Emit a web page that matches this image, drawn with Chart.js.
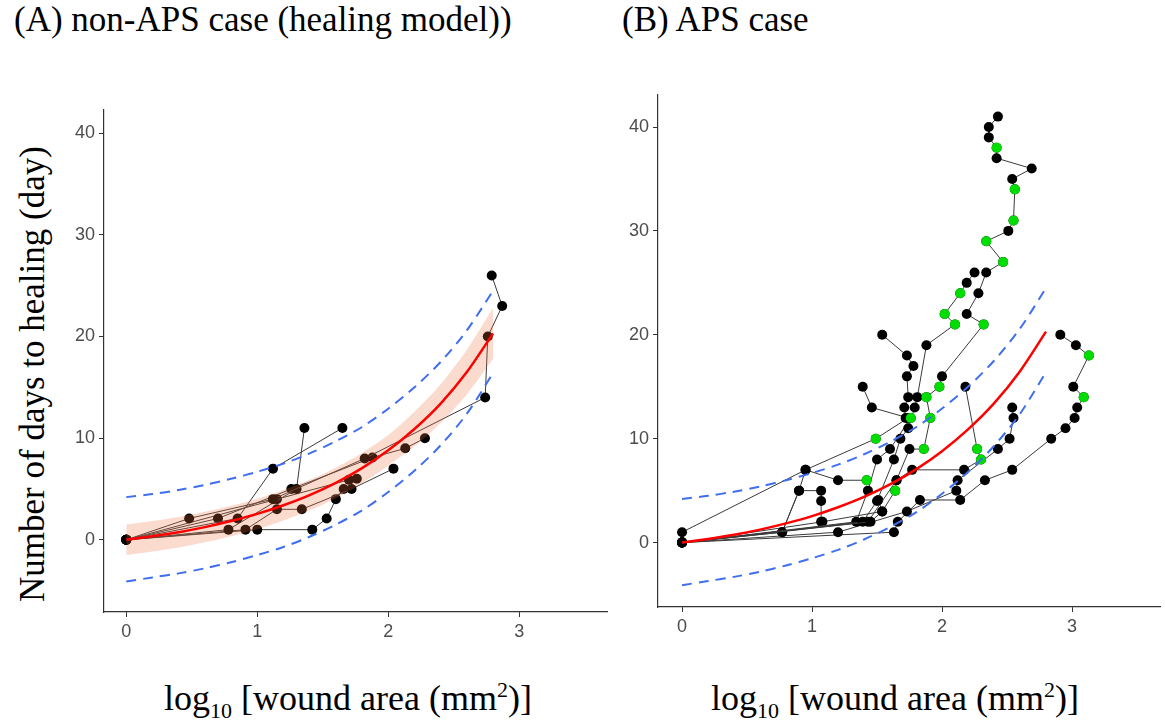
<!DOCTYPE html>
<html lang="en">
<head>
  <meta charset="UTF-8" />
  <title>Days to healing vs wound area</title>
  <script src="https://cdn.jsdelivr.net/npm/chart.js"></script>
  <style>
    body {
      margin: 0;
      width: 1165px;
      height: 723px;
      background: #fff;
      position: relative;
      overflow: hidden;
      font-family: 'Liberation Serif', 'Times New Roman', serif;
      color: #000;
    }
    .title {
      position: absolute;
      top: 0px;
      font-size: 35px;
      white-space: nowrap;
    }
    .ylab {
      position: absolute;
      left: 33px;
      top: 374px;
      font-size: 35px;
      white-space: nowrap;
      transform: translate(-50%, -50%) rotate(-90deg);
    }
    .xlab {
      position: absolute;
      top: 677px;
      font-size: 36px;
      white-space: nowrap;
      transform: translateX(-50%);
    }
    .xlab sub, .xlab sup { font-size: 22px; }
    .box { position: absolute; }
  </style>
</head>
<body>
  <div class="title" style="left:14px">(A) non-APS case (healing model))</div>
  <div class="title" style="left:622px">(B) APS case</div>
  <div class="ylab">Number of days to healing (day)</div>
  <div class="xlab" style="left:348px">log<sub>10</sub> [wound area (mm<sup>2</sup>)]</div>
  <div class="xlab" style="left:895px">log<sub>10</sub> [wound area (mm<sup>2</sup>)]</div>

  <div class="box" style="left:56px;top:95px;width:560px;height:560px"><canvas id="chartA"></canvas></div>
  <div class="box" style="left:610px;top:80px;width:555px;height:570px"><canvas id="chartB"></canvas></div>

  <script>
    // model curve (same in both panels)
    const modelX     = [0, 0.2, 0.4, 0.6, 0.8, 1.0, 1.2, 1.4, 1.6, 1.8, 2.0, 2.2, 2.4, 2.6, 2.8];
    const modelFit   = [0, 0.35, 0.75, 1.25, 1.85, 2.55, 3.4, 4.4, 5.6, 7.05, 8.8, 10.9, 13.4, 16.5, 20.3];
    const predUpper  = [4.2, 4.5, 4.9, 5.4, 6.0, 6.7, 7.5, 8.5, 9.7, 11.1, 12.9, 15.0, 17.5, 20.6, 24.5];
    const predLower  = [-4.1, -3.7, -3.3, -2.8, -2.2, -1.5, -0.7, 0.3, 1.5, 2.9, 4.7, 6.8, 9.3, 12.4, 16.4];
    const bandUpper  = [1.5, 1.85, 2.25, 2.75, 3.35, 4.05, 4.9, 5.9, 7.1, 8.55, 10.3, 12.6, 15.3, 18.7, 22.8];
    const bandLower  = [-1.5, -1.15, -0.75, -0.25, 0.35, 1.05, 1.9, 2.9, 4.1, 5.55, 7.3, 9.2, 11.5, 14.3, 17.8];

    const xTicks = [0, 1, 2, 3];
    const yTicks = [0, 10, 20, 30, 40];

    // (A) non-APS trajectories [log10 area, days]
    const aT1 = [[2.79,26],[2.87,23],[2.76,20],[2.74,14],[1.82,8],[1.12,4],[0.48,2.1],[0,0]];
    const aT2 = [[1.65,11],[1.12,7],[0.85,2.1],[0,0]];
    const aT3 = [[1.36,11],[1.30,5],[0.78,1],[0,0]];
    const aT4 = [[2.28,10],[2.13,9],[1.88,8.1],[1.26,5],[0.70,2.1],[0,0]];
    const aT5 = [[2.04,7],[1.72,5],[1.34,3],[1.15,3],[0.91,1],[0,0]];
    const aT6 = [[1.66,5],[1.60,4],[1.53,2.1],[1.42,1],[1.0,1],[0,0]];
    const aT7 = [[1.76,6],[1.70,5.9],[1.15,4],[0,0]];

    // (B) APS trajectories
    const bT1 = [[2.43,41],[2.36,40],[2.36,39],[2.42,38],[2.42,37],[2.69,36],[2.54,35],[2.56,34],[2.55,31],[2.51,30],[2.34,29],[2.47,27],[2.34,26],[2.28,24],[2.19,22],[2.32,21],[2.00,16],[1.98,15],[1.88,14],[1.91,12],[1.86,9],[1.75,9],[1.65,6],[1.64,5],[1.54,3],[1.45,2],[0,0]];
    const bT2 = [[2.25,26],[2.19,25],[2.14,24],[2.02,22],[2.10,21],[1.88,19],[1.81,14],[1.79,13],[1.74,11],[1.68,10],[1.63,8],[1.50,4],[1.39,2],[0,0]];
    const bT3 = [[1.54,20],[1.73,18],[1.78,17],[1.73,16],[1.74,14],[1.71,13],[1.72,12],[1.76,12],[1.60,9],[1.50,8],[1.43,5],[1.34,2],[0,0]];
    const bT4 = [[1.39,15],[1.46,13],[1.74,12],[1.49,10],[0.95,7],[0.90,5],[0.77,1],[0,0]];
    const bT5 = [[2.18,15],[2.27,9],[2.30,8],[2.17,7],[1.77,7],[1.65,6],[1.43,2],[0,0]];
    const bT6 = [[2.54,13],[2.55,12],[2.52,10],[2.43,9],[2.12,6],[2.11,5],[1.73,3],[1.20,1],[0,0]];
    const bT7 = [[2.91,20],[3.03,19],[3.13,18],[3.01,15],[3.09,14],[3.04,13],[3.02,12],[2.95,11],[2.84,10],[2.54,7],[2.33,6],[2.14,4.1],[1.83,4.1],[1.66,2],[1.63,1],[0,0]];
    const bT8 = [[1.42,6],[1.20,6],[0.95,7],[0,1],[0,0]];
    const bT9 = [[1.07,2],[1.07,4],[1.07,5],[0.90,5],[0.77,1],[0,0]];
    const bT10 = [[1.51,4.1],[1.54,3],[1.08,2],[0,0]];
    const bGreen = [[2.42,38],[2.56,34],[2.55,31],[2.34,29],[2.47,27],[2.32,21],[1.98,15],[1.88,14],[1.91,12],[1.86,9],[1.64,5],
                    [2.14,24],[2.02,22],[2.10,21],[1.76,12],[1.49,10],[2.27,9],[2.30,8],[3.13,18],[3.09,14],[1.42,6]];

    const pts = arr => arr.map(([x, y]) => ({ x, y }));
    const curve = ys => modelX.map((x, i) => ({ x, y: ys[i] }));

    function trajectory(arr) {
      return {
        data: pts(arr), showLine: true, order: 10,
        borderColor: '#3a3a3a', borderWidth: 1,
        pointRadius: 5, pointBackgroundColor: '#000', pointBorderWidth: 0
      };
    }
    function modelSets(withBand) {
      const sets = [];
      if (withBand) {
        sets.push({ data: curve(bandUpper), showLine: true, fill: '+1', order: 5, pointRadius: 0, borderWidth: 0,
                    backgroundColor: 'rgba(240,110,60,0.25)', tension: 0.3 });
        sets.push({ data: curve(bandLower), showLine: true, fill: false, order: 5, pointRadius: 0, borderWidth: 0, tension: 0.3 });
      }
      sets.push({ data: curve(modelFit), showLine: true, order: 2, pointRadius: 0, borderColor: '#ff0000', borderWidth: 2.5, tension: 0.3 });
      sets.push({ data: curve(predUpper), showLine: true, order: 1, pointRadius: 0, borderColor: '#3f6ef0', borderWidth: 2, borderDash: [10, 7], tension: 0.3 });
      sets.push({ data: curve(predLower), showLine: true, order: 1, pointRadius: 0, borderColor: '#3f6ef0', borderWidth: 2, borderDash: [10, 7], tension: 0.3 });
      return sets;
    }

    function axis(min, max, tickVals, fitSize, horizontal) {
      return {
        type: 'linear', min, max,
        afterBuildTicks: s => { s.ticks = tickVals.map(v => ({ value: v })); },
        afterFit: s => { if (horizontal) s.height = fitSize; else s.width = fitSize; },
        grid: { display: true, drawOnChartArea: false, drawTicks: true, tickLength: 5, color: '#333' },
        border: { display: true, color: '#333', width: 1.2 },
        ticks: { color: '#4d4d4d', padding: 4, font: { family: "'Liberation Sans', Arial", size: 18 } }
      };
    }

    function makeChart(id, datasets, xr, yr, pad) {
      new Chart(document.getElementById(id), {
        type: 'scatter',
        data: { datasets },
        options: {
          responsive: true, maintainAspectRatio: false, animation: false,
          layout: { padding: pad },
          plugins: { legend: { display: false }, tooltip: { enabled: false } },
          scales: {
            x: axis(xr[0], xr[1], xTicks, 43, true),
            y: axis(yr[0], yr[1], yTicks, 48, false)
          }
        }
      });
    }

    makeChart('chartA',
      [aT1, aT2, aT3, aT4, aT5, aT6, aT7].map(trajectory).concat(modelSets(true)),
      [-0.17, 3.67], [-7.1, 42.3], { top: 10, right: 9, left: 0, bottom: 0 });

    makeChart('chartB',
      [bT1, bT2, bT3, bT4, bT5, bT6, bT7, bT8, bT9, bT10].map(trajectory)
        .concat([{ data: pts(bGreen), order: 9, pointRadius: 5, pointBackgroundColor: '#00dd00', pointBorderWidth: 0 }])
        .concat(modelSets(false)),
      [-0.185, 3.677], [-6.2, 43.1], { top: 10, right: 5, left: 0, bottom: 0 });
  </script>
</body>
</html>
